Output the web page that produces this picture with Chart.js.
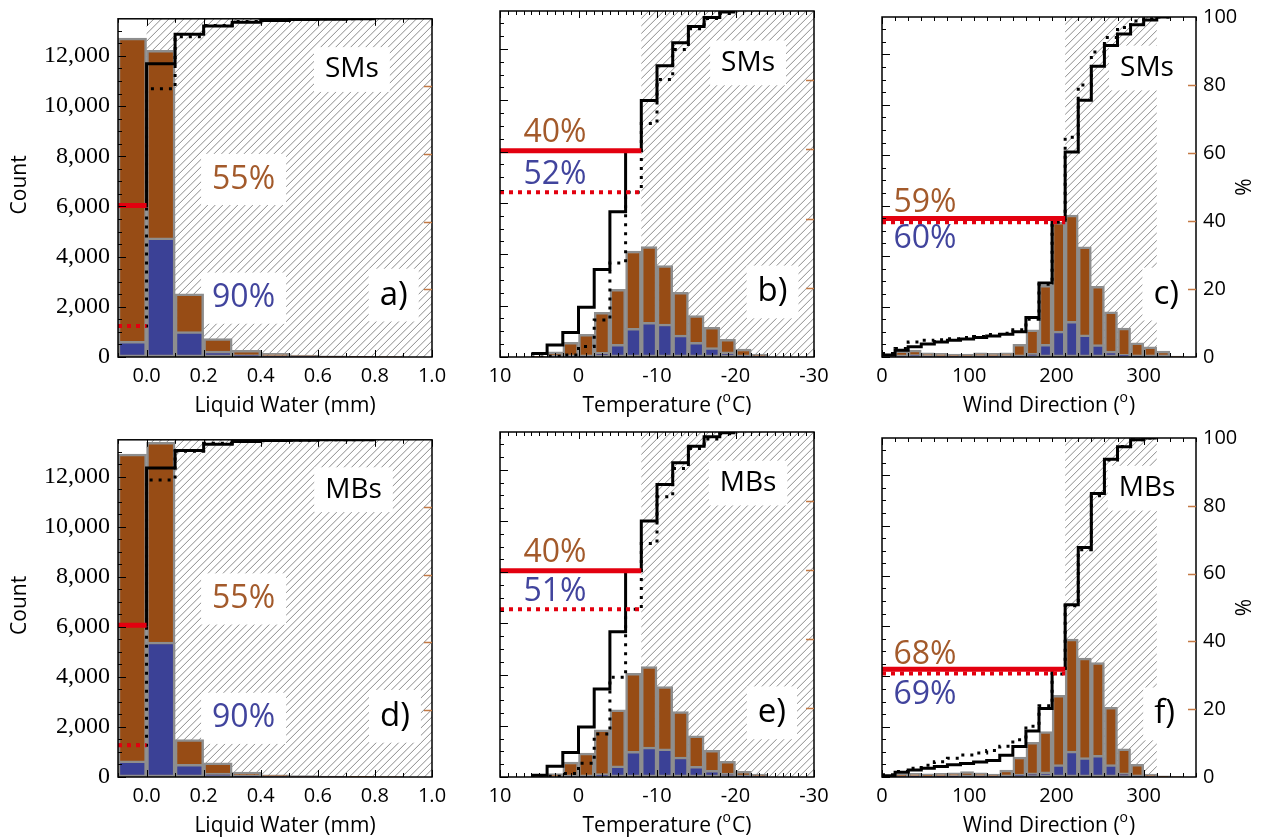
<!DOCTYPE html>
<html lang="en">
<head>
<meta charset="UTF-8">
<title>Liquid water, temperature and wind direction histograms</title>
<script src="https://cdn.jsdelivr.net/npm/chart.js"></script>
<style>
  html, body { margin: 0; padding: 0; background: #fff; }
  #fig { position: relative; width: 1262px; height: 840px; overflow: hidden; }
  #fig canvas { position: absolute; }
</style>
</head>
<body>
<div id="fig"></div>
<script>
// ---- bin edges ----
const lwEdges = [-0.1, 0, 0.1, 0.2, 0.3, 0.4, 0.5, 0.6, 0.7, 0.8, 0.9];
const tEdges = [6, 4, 2, 0, -2, -4, -6, -8, -10, -12, -14, -16, -18, -20, -22, -24];
const wdEdges = [0, 15, 30, 45, 60, 75, 90, 105, 120, 135, 150, 165, 180, 195, 210, 225, 240, 255, 270, 285, 300, 315, 330, 345];

// ---- tick labels ----
const countTicks = [0, 2000, 4000, 6000, 8000, 10000, 12000];
const pctTicks = [0, 20, 40, 60, 80, 100];
const lwTicks = [0, 0.2, 0.4, 0.6, 0.8, 1.0];
const tTicks = [10, 0, -10, -20, -30];
const wdTicks = [0, 100, 200, 300];

// ---- hatched ranges (threshold first) ----
const lwHatch = [0, 1.0];
const tHatch = [-8, -30];
const wdHatch = [210, 315];

// ---- SMs ----
const smLwAll = [12710, 12220, 2520, 730, 270, 145, 80, 50, 30, 20];
const smLwSub = [620, 4750, 1010, 235, 90, 40, 20, 10, 5, 0];
const smLwCdf = [44.8, 86.7, 95.4, 97.9, 99.0, 99.5, 99.8, 99.9, 100];
const smLwCdfSub = [9.2, 79.3, 94.7, 98.0, 99.2, 99.6, 99.8, 100, 100];

const smTAll = [30, 205, 570, 885, 1740, 2640, 4130, 4300, 3560, 2520, 1610, 1155, 690, 310, 115];
const smTSub = [0, 10, 20, 40, 185, 495, 1115, 1350, 1285, 855, 570, 365, 205, 50, 15];
const smTCdf = [1.0, 3.5, 7.1, 14.4, 25.3, 42.0, 59.6, 74.1, 84.2, 90.8, 95.5, 98.1, 99.7];
const smTCdfSub = [0, 0.2, 0.6, 3.0, 10.7, 27.2, 47.6, 67.5, 80.2, 88.9, 94.9, 97.8, 99.3];

const smWdAll = [117, 246, 273, 169, 144, 117, 117, 169, 144, 168, 506, 1078, 2844, 5337, 5623, 4364, 2805, 1792, 1143, 558, 403, 234, 40];
const smWdSub = [10, 60, 100, 40, 20, 15, 15, 20, 15, 20, 40, 144, 506, 1026, 1415, 883, 493, 234, 104, 30, 10, 0, 0];
const smWdCdf = [0.6, 2.0, 3.0, 3.8, 4.4, 4.9, 5.3, 5.7, 6.2, 6.7, 7.4, 11.6, 21.8, 40.7, 60.3, 75.5, 85.5, 91.6, 95.0, 97.7, 99.1, 100];
const smWdCdfSub = [1.0, 2.5, 4.4, 4.9, 5.1, 5.4, 5.7, 6.0, 6.6, 7.0, 8.0, 11.1, 21.4, 39.6, 64.6, 80.0, 89.7, 94.0, 96.9, 98.8, 99.5, 100];

// ---- MBs ----
const mbLwAll = [12910, 13380, 1495, 570, 195, 90, 60, 40, 30, 20];
const mbLwSub = [650, 5395, 505, 155, 50, 20, 10, 5, 0, 0];
const mbLwCdf = [45.0, 91.6, 96.8, 98.7, 99.5, 99.8, 99.9, 100, 100];
const mbLwCdfSub = [9.4, 88.1, 96.6, 99.0, 99.6, 99.8, 99.9, 100, 100];

const mbTAll = [65, 130, 585, 935, 1845, 2625, 4055, 4315, 3535, 2560, 1610, 1040, 610, 220, 115];
const mbTSub = [0, 0, 10, 40, 130, 440, 1000, 1170, 1105, 780, 415, 260, 155, 50, 15];
const mbTCdf = [0.5, 3.1, 7.1, 14.5, 25.5, 42.1, 59.8, 74.2, 84.8, 91.1, 95.9, 98.6, 99.8];
const mbTCdfSub = [0, 0.2, 1.0, 4.0, 12.5, 28.9, 48.6, 67.7, 81.2, 89.4, 95.2, 98.0, 99.5];

const mbWdAll = [65, 130, 150, 130, 150, 170, 220, 170, 117, 273, 794, 1380, 1810, 3243, 5482, 4727, 4545, 2774, 1120, 508, 117, 50, 20];
const mbWdSub = [10, 20, 30, 20, 30, 30, 40, 30, 20, 40, 117, 170, 208, 495, 1029, 768, 860, 495, 170, 40, 10, 0, 0];
const mbWdCdf = [0.4, 1.4, 2.1, 2.6, 3.1, 3.6, 4.0, 4.4, 4.9, 6.4, 9.0, 13.6, 20.2, 32.0, 50.8, 67.7, 83.6, 93.7, 97.4, 99.5, 100];
const mbWdCdfSub = [0.7, 1.6, 2.6, 3.5, 4.5, 5.5, 6.5, 7.1, 7.8, 9.1, 11.0, 15.0, 21.0, 30.4, 50.5, 67.0, 83.0, 93.5, 97.5, 99.5, 100];

// red threshold levels (% on right axis), panels a..f
const redAll = [44.8, 59.6, 40.7, 45.0, 59.8, 31.8];
const redSub = [9.2, 47.6, 39.6, 9.4, 48.6, 30.5];

// annotation texts
const groups = ['SMs', 'SMs', 'SMs', 'MBs', 'MBs', 'MBs'];
const letters = ['a)', 'b)', 'c)', 'd)', 'e)', 'f)'];
const pctAll = ['55%', '40%', '59%', '55%', '40%', '68%'];
const pctSub = ['90%', '52%', '60%', '90%', '51%', '69%'];

const countMax = 13480;

const BROWN = '#974c15', BLUE = '#3b4196', GREY = '#8e8e8e', RED = '#e3000f';
const TXT_BROWN = '#a35a2b', TXT_BLUE = '#41449d', ORANGE = '#c47a45';
const SANS = '"Open Sans", "DejaVu Sans", sans-serif';

const vars = {
  lw: { min: -0.1, max: 1.0, minor: 0.1, reverse: false, edges: lwEdges, hatch: lwHatch, ticks: lwTicks, dec: 1,
        title: ['Liquid Water (mm)'] },
  t:  { min: -30, max: 10, minor: 1, reverse: true, edges: tEdges, hatch: tHatch, ticks: tTicks, dec: 0,
        title: ['Temperature (', 'o', 'C)'] },
  wd: { min: 0, max: 360, minor: 15, reverse: false, edges: wdEdges, hatch: wdHatch, ticks: wdTicks, dec: 0,
        title: ['Wind Direction (', 'o', ')'] }
};

const panels = [
  { v: 'lw', row: 0, col: 0, all: smLwAll, sub: smLwSub, cdf: smLwCdf, cdfSub: smLwCdfSub,
    spots: [[0.745, 0.15], [0.40, 0.475], [0.40, 0.826], [0.878, 0.817]], boxed: [1, 1, 1, 1] },
  { v: 't', row: 0, col: 1, all: smTAll, sub: smTSub, cdf: smTCdf, cdfSub: smTCdfSub,
    spots: [[0.79, 0.15], [0.175, 0.352], [0.175, 0.474], [0.868, 0.812]], boxed: [1, 0, 0, 1] },
  { v: 'wd', row: 0, col: 2, all: smWdAll, sub: smWdSub, cdf: smWdCdf, cdfSub: smWdCdfSub,
    spots: [[0.844, 0.15], [0.137, 0.546], [0.137, 0.653], [0.905, 0.815]], boxed: [1, 0, 0, 1] },
  { v: 'lw', row: 1, col: 0, all: mbLwAll, sub: mbLwSub, cdf: mbLwCdf, cdfSub: mbLwCdfSub,
    spots: [[0.75, 0.148], [0.40, 0.472], [0.40, 0.826], [0.882, 0.82]], boxed: [1, 1, 1, 1] },
  { v: 't', row: 1, col: 1, all: mbTAll, sub: mbTSub, cdf: mbTCdf, cdfSub: mbTCdfSub,
    spots: [[0.79, 0.148], [0.175, 0.35], [0.175, 0.464], [0.866, 0.814]], boxed: [1, 0, 0, 1] },
  { v: 'wd', row: 1, col: 2, all: mbWdAll, sub: mbWdSub, cdf: mbWdCdf, cdfSub: mbWdCdfSub,
    spots: [[0.844, 0.148], [0.137, 0.64], [0.137, 0.757], [0.9, 0.814]], boxed: [1, 0, 0, 1] }
];

const ROW_TOP = [0, 421];
const PLOT_LEFT = [118, 500, 882];
const CANVAS_W = [460, 460, 498];
const PLOT_H = [346, 345];

function stepPts(edges, vals) {
  const pts = vals.map((v, i) => ({ x: edges[i], y: v }));
  pts.push({ x: edges[vals.length], y: vals[vals.length - 1] });
  return pts;
}
function barPts(edges, vals) {
  return vals.map((v, i) => ({ x: (edges[i] + edges[i + 1]) / 2, y: v }));
}
function fixTicks(arr) {
  return s => { s.ticks = arr.map(v => ({ value: v })); };
}

// per-chart extra settings, kept outside chart options
const extras = new WeakMap();

const panelPlugin = {
  id: 'panel',
  beforeDatasetsDraw(chart) {
    const o = extras.get(chart.canvas);
    const { ctx, chartArea: a, scales: { x } } = chart;
    const p1 = x.getPixelForValue(o.v.hatch[0]), p2 = x.getPixelForValue(o.v.hatch[1]);
    const l = Math.min(p1, p2), r = Math.max(p1, p2), h = a.bottom - a.top;
    ctx.save();
    ctx.beginPath();
    ctx.rect(l, a.top, r - l, h);
    ctx.clip();
    ctx.strokeStyle = '#8c8c8c';
    ctx.lineWidth = 1;
    ctx.beginPath();
    for (let s = l - h; s < r; s += 7.5) {
      ctx.moveTo(s, a.bottom);
      ctx.lineTo(s + h, a.top);
    }
    ctx.stroke();
    ctx.restore();
    // white boxes behind the texts, over the hatching
    ctx.save();
    o.labels.forEach(lb => {
      if (!lb.boxed) return;
      ctx.font = lb.size + 'px ' + SANS;
      const w = ctx.measureText(lb.text).width;
      const cx = a.left + lb.fx * (a.right - a.left), cy = a.top + lb.fy * h;
      ctx.fillStyle = '#fff';
      ctx.fillRect(cx - w / 2 - 11, cy - lb.size * 0.8, w + 22, lb.size * 1.6);
    });
    ctx.restore();
  },
  afterDatasetsDraw(chart) {
    const o = extras.get(chart.canvas);
    const { ctx, chartArea: a, scales: { x, y, yp } } = chart;
    ctx.save();
    ctx.strokeStyle = '#000';
    ctx.lineWidth = 1.5;
    ctx.strokeRect(a.left, a.top, a.right - a.left, a.bottom - a.top);
    // left count ticks (minor every 500, major on labelled values)
    ctx.lineWidth = 1;
    ctx.beginPath();
    for (let k = 0; k * 500 <= y.max; k++) {
      const val = k * 500;
      const py = Math.round(y.getPixelForValue(val)) + 0.5;
      const len = countTicks.includes(val) ? 8 : 4;
      ctx.moveTo(a.left, py);
      ctx.lineTo(a.left + len, py);
    }
    // bottom / top ticks
    const v = o.v;
    for (let k = Math.ceil(v.min / v.minor - 1e-9); k * v.minor <= v.max + 1e-9; k++) {
      const val = k * v.minor;
      const major = v.ticks.some(t => Math.abs(t - val) < 1e-6);
      const len = major ? 7 : 4;
      const px = Math.round(x.getPixelForValue(val)) + 0.5;
      ctx.moveTo(px, a.bottom);
      ctx.lineTo(px, a.bottom - len);
      ctx.moveTo(px, a.top);
      ctx.lineTo(px, a.top + len);
    }
    ctx.stroke();
    // right % ticks
    ctx.strokeStyle = ORANGE;
    ctx.lineWidth = 1.5;
    ctx.beginPath();
    pctTicks.forEach(pv => {
      if (pv === 0 || pv === 100) return;
      const py = Math.round(yp.getPixelForValue(pv)) + 0.5;
      ctx.moveTo(a.right, py);
      ctx.lineTo(a.right - 8, py);
    });
    ctx.stroke();
    // texts
    ctx.textAlign = 'center';
    ctx.textBaseline = 'middle';
    o.labels.forEach(lb => {
      const cx = a.left + lb.fx * (a.right - a.left), cy = a.top + lb.fy * (a.bottom - a.top);
      ctx.font = lb.size + 'px ' + SANS;
      ctx.fillStyle = lb.color;
      ctx.fillText(lb.text, cx, cy);
    });
    ctx.restore();
  },
  afterDraw(chart) {
    const o = extras.get(chart.canvas);
    const { ctx, chartArea: a } = chart;
    ctx.save();
    ctx.fillStyle = '#000';
    ctx.textBaseline = 'middle';
    const big = '21px ' + SANS, small = '14px ' + SANS;
    const parts = o.v.title;
    ctx.font = big;
    const w0 = ctx.measureText(parts[0]).width;
    let w1 = 0, w2 = 0;
    if (parts.length > 1) {
      ctx.font = small; w1 = ctx.measureText(parts[1]).width + 1;
      ctx.font = big; w2 = ctx.measureText(parts[2]).width;
    }
    const cx = (a.left + a.right) / 2 + 10, ty = a.bottom + 49;
    const sx = cx - (w0 + w1 + w2) / 2;
    ctx.textAlign = 'left';
    ctx.font = big;
    ctx.fillText(parts[0], sx, ty);
    if (parts.length > 1) {
      ctx.font = small;
      ctx.fillText(parts[1], sx + w0, ty - 8);
      ctx.font = big;
      ctx.fillText(parts[2], sx + w0 + w1, ty);
    }
    ctx.textAlign = 'center';
    ctx.font = big;
    const my = (a.top + a.bottom) / 2;
    if (o.leftTitle) {
      ctx.save();
      ctx.translate(20, my - 3);
      ctx.rotate(-Math.PI / 2);
      ctx.fillText('Count', 0, 0);
      ctx.restore();
    }
    if (o.rightTitle) {
      ctx.save();
      ctx.translate(a.right + 49, my);
      ctx.rotate(-Math.PI / 2);
      ctx.fillText('%', 0, 0);
      ctx.restore();
    }
    ctx.restore();
  }
};

const fig = document.getElementById('fig');

panels.forEach((p, i) => {
  const v = vars[p.v];
  const w = CANVAS_W[p.col], h = 420, plotH = PLOT_H[p.row];
  const c = document.createElement('canvas');
  c.width = w; c.height = h;
  c.style.left = (PLOT_LEFT[p.col] - 118) + 'px';
  c.style.top = ROW_TOP[p.row] + 'px';
  c.style.width = w + 'px';
  c.style.height = h + 'px';
  fig.appendChild(c);

  const xStart = v.reverse ? v.max : v.min;
  const thr = v.hatch[0];
  const labels = [
    { text: groups[i], size: 28, color: '#000' },
    { text: pctAll[i], size: 32, color: TXT_BROWN },
    { text: pctSub[i], size: 32, color: TXT_BLUE },
    { text: letters[i], size: 33, color: '#000' }
  ].map((t, k) => Object.assign(t, { fx: p.spots[k][0], fy: p.spots[k][1], boxed: !!p.boxed[k] }));
  extras.set(c, { v: v, labels: labels, leftTitle: p.col === 0, rightTitle: p.col === 2 });

  const barCommon = {
    type: 'bar', yAxisID: 'y', borderColor: GREY, borderWidth: 2.5, borderSkipped: false,
    grouped: false, barPercentage: 1, categoryPercentage: 1
  };
  const lineCommon = { type: 'line', yAxisID: 'yp', pointRadius: 0, tension: 0, fill: false };
  const noGrid = { display: false, drawTicks: false };

  new Chart(c, {
    type: 'bar',
    data: {
      datasets: [
        Object.assign({}, lineCommon, { data: [{ x: xStart, y: redAll[i] }, { x: thr, y: redAll[i] }],
          borderColor: RED, borderWidth: 5, order: 0 }),
        Object.assign({}, lineCommon, { data: [{ x: xStart, y: redSub[i] }, { x: thr, y: redSub[i] }],
          borderColor: RED, borderWidth: 4, borderDash: [4, 5], order: 0 }),
        Object.assign({}, lineCommon, { data: stepPts(v.edges, p.cdf), stepped: true,
          borderColor: '#000', borderWidth: 3, order: 1 }),
        Object.assign({}, lineCommon, { data: stepPts(v.edges, p.cdfSub), stepped: true,
          borderColor: '#000', borderWidth: 3, borderDash: [3, 6], order: 2 }),
        Object.assign({}, barCommon, { data: barPts(v.edges, p.sub), backgroundColor: BLUE, order: 5 }),
        Object.assign({}, barCommon, { data: barPts(v.edges, p.all), backgroundColor: BROWN, order: 6 })
      ]
    },
    options: {
      responsive: false,
      animation: false,
      devicePixelRatio: 1,
      events: [],
      layout: { padding: { top: 11, left: 0, right: 0, bottom: 0 } },
      plugins: { legend: { display: false }, tooltip: { enabled: false } },
      scales: {
        x: {
          type: 'linear', min: v.min, max: v.max, reverse: v.reverse, offset: false,
          grid: noGrid, border: { display: false },
          afterBuildTicks: fixTicks(v.ticks),
          ticks: { maxRotation: 0, autoSkip: false, padding: 7, color: '#000',
                   font: { family: SANS, size: 20 }, callback: val => Number(val).toFixed(v.dec) },
          afterFit: s => { s.height = h - 11 - plotH; }
        },
        y: {
          type: 'linear', position: 'left', min: 0, max: countMax,
          grid: noGrid, border: { display: false },
          afterBuildTicks: fixTicks(countTicks),
          ticks: { display: p.col === 0, padding: 8, color: '#000',
                   font: { family: '"Liberation Serif", serif', size: 24, lineHeight: 0.9 },
                   callback: val => Number(val).toLocaleString('en-US') },
          afterFit: s => { s.width = 118; }
        },
        yp: {
          type: 'linear', position: 'right', min: 0, max: 100,
          grid: noGrid, border: { display: false },
          afterBuildTicks: fixTicks(pctTicks),
          ticks: { display: p.col === 2, padding: 7, color: '#000',
                   font: { family: SANS, size: 20, lineHeight: 1 }, callback: val => String(val) },
          afterFit: s => { s.width = w - 118 - 314; }
        }
      }
    },
    plugins: [panelPlugin]
  });
});
</script>
</body>
</html>
